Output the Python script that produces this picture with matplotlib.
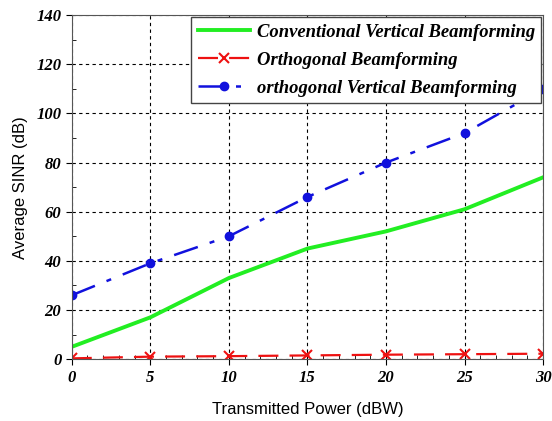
import numpy as np
import matplotlib.pyplot as plt
from matplotlib.ticker import MultipleLocator

# transmitted power (dBW)
power = [0, 5, 10, 15, 20, 25, 30]

# average SINR (dB) for each scheme
conv_vertical = [5, 17, 33, 45, 52, 61, 74]
orthogonal = [0.3, 1.0, 1.2, 1.5, 1.8, 2.0, 2.2]
orth_vertical = [26, 39, 50, 66, 80, 92, 110]

labels = ["Conventional Vertical Beamforming",
          "Orthogonal Beamforming",
          "orthogonal Vertical Beamforming"]

fig = plt.figure(figsize=(5.52, 4.21), dpi=100)
ax = fig.add_axes([0.130, 0.147, 0.854, 0.817])

ax.plot(power, conv_vertical, color="#22ee22", lw=2.8, label=labels[0])
ax.plot(power, orthogonal, color="#ee1111", lw=1.6, ls=(0, (9, 5)),
        marker="x", ms=7, mew=1.5, label=labels[1])
ax.plot(power, orth_vertical, color="#1111dd", lw=1.8, ls=(0, (10, 5, 2, 5)),
        marker="o", ms=6, label=labels[2])

ax.set_xlim(0, 30)
ax.set_ylim(0, 140)
ax.xaxis.set_major_locator(MultipleLocator(5))
ax.xaxis.set_minor_locator(MultipleLocator(1))
ax.yaxis.set_major_locator(MultipleLocator(20))
ax.yaxis.set_minor_locator(MultipleLocator(10))
ax.tick_params(which="major", direction="out", length=4)
ax.tick_params(which="minor", direction="in", length=3)

for lab in ax.get_xticklabels() + ax.get_yticklabels():
    lab.set_fontfamily("Liberation Serif")
    lab.set_fontweight("bold")
    lab.set_fontstyle("italic")
    lab.set_fontsize(12)

ax.grid(True, which="major", color="black", ls=(0, (3, 3)), lw=0.8)
for s in ax.spines.values():
    s.set_color("#555555")

ax.set_xlabel("Transmitted Power (dBW)", fontsize=12, family="Liberation Sans", labelpad=12)
ax.set_ylabel("Average SINR (dB)", fontsize=12, family="Liberation Sans", labelpad=6)

leg = ax.legend(loc="upper right", fancybox=False, framealpha=1, edgecolor="#444444",
                borderaxespad=0.1, handlelength=2.8, handletextpad=0.35,
                labelspacing=0.6, borderpad=0.35,
                prop={"family": "Liberation Serif", "weight": "bold",
                      "style": "italic", "size": 13.4})

fig.savefig("out.png", dpi=100)
